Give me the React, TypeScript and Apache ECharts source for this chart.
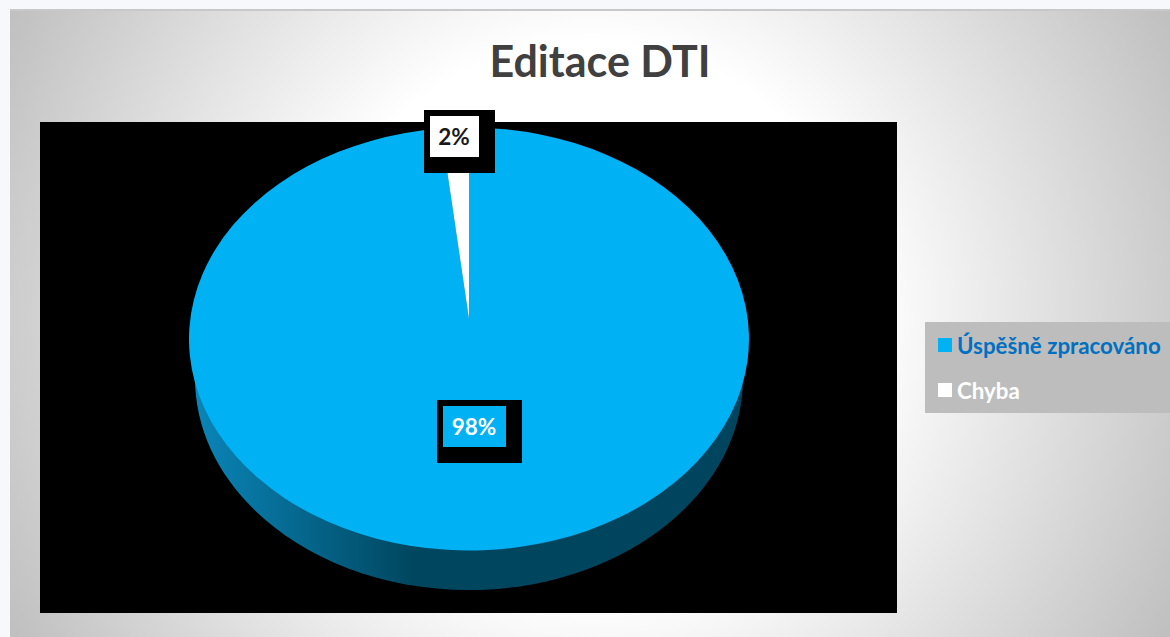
import React, { useEffect, useRef } from "react";
import * as echarts from "echarts";

const titleText = "Editace DTI";
const categories = ["Úspěšně zpracováno", "Chyba"];
const values = [98.4, 1.6];
const sliceColors = ["#00B1F3", "#FFFFFF"];
const legendTextColors = ["#0070C0", "#FFFFFF"];
const labelTextColors = ["#FFFFFF", "#1A1A1A"];

const FONT = "Lato";
const TOP = { cx: 469, cy: 339, rx: 280, ry: 211.5 };
const APEX = { x: 469, y: 319 };
const BOTTOM = { cx: 469, cy: 378, rx: 274, ry: 212 };
const LABELS = [
  { outer: [437, 400, 85, 63], inner: [443, 406, 63, 41], text: [474, 426], fill: "#00B1F3" },
  { outer: [424, 110, 71, 63], inner: [430, 116, 49, 41], text: [454, 136], fill: "#FFFFFF" },
];

const total = values.reduce((a, b) => a + b, 0);

function rimPoint(frac: number) {
  const a = frac * Math.PI * 2;
  return [TOP.cx + TOP.rx * Math.sin(a), TOP.cy - TOP.ry * Math.cos(a)];
}

function sliceRenderer(index: number) {
  return (_p: any, api: any) => {
    const value = api.value(0);
    const before = values.slice(0, index).reduce((a, b) => a + b, 0);
    const f0 = before / total;
    const f1 = (before + value) / total;
    const s = rimPoint(f0);
    const e = rimPoint(f1);
    const large = f1 - f0 > 0.5 ? 1 : 0;
    const d = `M${APEX.x} ${APEX.y}L${s[0]} ${s[1]}A${TOP.rx} ${TOP.ry} 0 ${large} 1 ${e[0]} ${e[1]}Z`;
    return { type: "path", shape: { pathData: d }, style: { fill: sliceColors[index] } };
  };
}

function labelRenderer(_p: any, api: any) {
  const index = api.value(0);
  const value = api.value(1);
  const L = LABELS[index];
  return {
    type: "group",
    children: [
      { type: "rect", shape: { x: L.outer[0], y: L.outer[1], width: L.outer[2], height: L.outer[3] }, style: { fill: "#000000" } },
      { type: "rect", shape: { x: L.inner[0], y: L.inner[1], width: L.inner[2], height: L.inner[3] }, style: { fill: L.fill } },
      {
        type: "text",
        style: {
          x: L.text[0],
          y: L.text[1],
          text: `${Math.round((value / total) * 100)}%`,
          fill: labelTextColors[index],
          font: `bold 22.5px ${FONT}`,
          align: "center",
          verticalAlign: "middle",
        },
      },
    ],
  };
}

function sideRenderer() {
  return {
    type: "ellipse",
    shape: { cx: BOTTOM.cx, cy: BOTTOM.cy, rx: BOTTOM.rx, ry: BOTTOM.ry },
    style: {
      fill: new echarts.graphic.LinearGradient(0, 0, 1, 0, [
        { offset: 0, color: "#0A85B8" },
        { offset: 0.2, color: "#05668C" },
        { offset: 0.4, color: "#00465F" },
        { offset: 1, color: "#00445D" },
      ]),
    },
  };
}

export default function App() {
  const ref = useRef<HTMLDivElement>(null);
  useEffect(() => {
    const chart = echarts.init(ref.current!, undefined, { renderer: "svg" });
    chart.setOption({
      animation: false,
      title: {
        text: titleText,
        left: 595,
        top: 34,
        textAlign: "center",
        textStyle: { fontFamily: FONT, fontWeight: "bold", fontSize: 43, color: "#404040" },
      },
      graphic: [
        {
          type: "rect",
          z: -10,
          shape: { x: 10, y: 10, width: 1160, height: 627 },
          style: {
            fill: new echarts.graphic.RadialGradient(
              590,
              320,
              660,
              [
                { offset: 0, color: "#FFFFFF" },
                { offset: 0.42, color: "#FFFFFF" },
                { offset: 1, color: "#BFBFBF" },
              ],
              true
            ),
          },
        },
        {
          type: "rect",
          z: -9,
          shape: { x: 10, y: 9, width: 1160, height: 2 },
          style: { fill: "#C8C8C8" },
        },
        {
          type: "rect",
          z: -9,
          shape: { x: 40, y: 122, width: 857, height: 491 },
          style: { fill: "#000000" },
        },
      ],
      legend: {
        left: 925,
        top: 322,
        width: 245,
        orient: "vertical",
        backgroundColor: "#BDBDBD",
        padding: [10, 12, 10, 13],
        itemGap: 19,
        itemWidth: 14,
        itemHeight: 14,
        icon: "rect",
        selectedMode: false,
        textStyle: { fontFamily: FONT, fontWeight: "bold", fontSize: 22.3, lineHeight: 26 },
        data: categories.map((name, i) => ({ name, textStyle: { color: legendTextColors[i] } })),
      },
      series: [
        { type: "custom", name: "bok", coordinateSystem: "none", silent: true, z: 1, renderItem: sideRenderer, data: [[total]] },
        ...categories.map((name, i) => ({
          type: "custom",
          name,
          coordinateSystem: "none",
          silent: true,
          z: 2,
          itemStyle: { color: sliceColors[i] },
          renderItem: sliceRenderer(i),
          data: [[values[i]]],
        })),
        {
          type: "custom",
          name: "popisky",
          coordinateSystem: "none",
          silent: true,
          z: 3,
          renderItem: labelRenderer,
          data: values.map((v, i) => [i, v]),
        },
      ],
    });
    return () => chart.dispose();
  }, []);
  return (
    <div
      ref={ref}
      style={{ position: "absolute", left: 0, top: 0, width: 1170, height: 637, background: "#F6F8FB", overflow: "hidden" }}
    />
  );
}
